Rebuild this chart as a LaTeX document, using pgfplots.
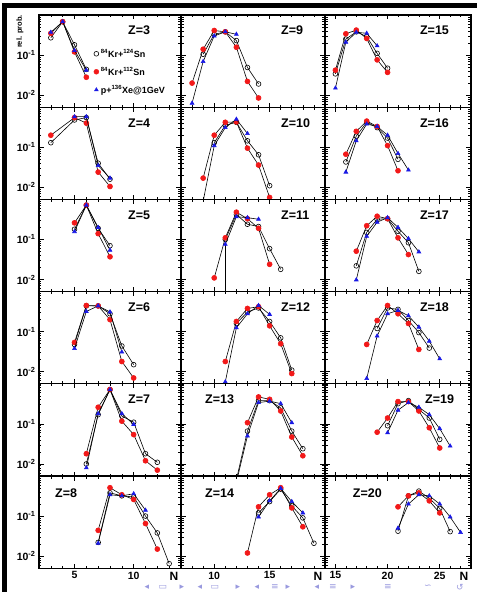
\documentclass[border=0pt]{standalone}
\usepackage{fontspec}
\setmainfont{Liberation Sans}
\newfontfamily\dejavu{DejaVu Sans}
\usepackage{pgfplots}
\pgfplotsset{compat=1.18}
\usepgfplotslibrary{groupplots}
\usetikzlibrary{calc}
\definecolor{myred}{rgb}{0.95,0.1,0.1}
\definecolor{myblue}{rgb}{0.1,0.1,0.9}
\definecolor{navcol}{rgb}{0.6,0.6,0.87}
\pgfplotsset{
 sA/.style={black, line width=0.6pt, mark=o, mark size=2.4pt, mark options={solid, line width=0.6pt}},
 sB/.style={black, line width=0.6pt, mark=*, mark size=2.5pt, mark options={solid, color=myred}},
 sC/.style={black, line width=0.6pt, mark=triangle*, mark size=2.2pt, mark options={solid, color=myblue}},
 c1/.style={xmin=2,xmax=14,width=142pt,xtick={5,10},minor xtick={2,...,14}},
 c2/.style={xmin=7,xmax=20,width=144pt,xtick={10,15},minor xtick={7,...,20}},
 c3/.style={xmin=14,xmax=28,width=146pt,xtick={15,20,25},minor xtick={14,...,28}},
 nl/.style={xlabel={N}, xlabel style={at={(axis description cs:1,0)}, anchor=north east, font=\bfseries\fontsize{12}{12}\selectfont, inner sep=0pt, yshift=-4pt, xshift=-2.5pt}},
}
\tikzset{zl/.style={font=\bfseries\fontsize{12.5}{13}\selectfont, anchor=west, inner sep=0pt}}
\newcommand\tri[3]{%
 \addplot[sA] coordinates {#1};
 \addplot[sB] coordinates {#2};
 \addplot[sC] coordinates {#3};}
\begin{document}
\begin{tikzpicture}
\begin{groupplot}[
 group style={group size=3 by 6, horizontal sep=0pt, vertical sep=0pt,
   xticklabels at=edge bottom, yticklabels at=edge left},
 scale only axis, height=92.2pt,
 ymode=log, ymin=0.005, ymax=1,
 ytick={0.01,0.1}, yticklabels={{10\textsuperscript{-2}},{10\textsuperscript{-1}}},
 minor ytick={0.005,0.006,0.007,0.008,0.009,0.02,0.03,0.04,0.05,0.06,0.07,0.08,0.09,0.2,0.3,0.4,0.5,0.6,0.7,0.8,0.9},
 ticklabel style={font=\bfseries\fontsize{10.5}{11}\selectfont},
 /pgf/number format/assume math mode=true,
 axis line style={line width=1.1pt},
 tick style={black, line width=0.6pt},
 major tick length=4.5pt, minor tick length=2.5pt,
 tick align=inside,
 clip mode=individual,
]
% ---------- row 1
\nextgroupplot[c1,
 legend style={draw=none, fill=none, at={(axis description cs:0.385,0.655)}, anchor=north west,
   font=\bfseries\fontsize{9}{10}\selectfont, row sep=4.5pt, inner sep=0pt},
 legend cell align=left,
 legend image code/.code={\draw[#1] plot coordinates {(0pt,0pt)};}]
\addlegendimage{black, mark=o, mark size=2.4pt, mark options={line width=0.6pt}}
\addlegendentry{\textsuperscript{84}Kr+\textsuperscript{124}Sn}
\addlegendimage{black, mark=*, mark size=2.5pt, mark options={color=myred}}
\addlegendentry{\textsuperscript{84}Kr+\textsuperscript{112}Sn}
\addlegendimage{black, mark=triangle*, mark size=2.2pt, mark options={color=myblue}}
\addlegendentry{p+\textsuperscript{136}Xe@1GeV}
\tri{(3,0.27)(4,0.68)(5,0.18)(6,0.044)}
    {(3,0.35)(4,0.68)(5,0.12)(6,0.028)}
    {(3,0.37)(4,0.68)(5,0.13)(6,0.042)}
\node[zl] at (axis description cs:0.627,0.83) {Z=3};
\node[rotate=90, anchor=east, font=\bfseries\fontsize{7.5}{8}\selectfont, inner sep=0pt] at (axis description cs:-0.135,1) {rel. prob.};
\nextgroupplot[c2]
\tri{(9,0.105)(10,0.33)(11,0.38)(12,0.23)(13,0.049)(14,0.019)}
    {(8,0.02)(9,0.14)(10,0.41)(11,0.38)(12,0.157)(13,0.022)(14,0.0085)}
    {(8,0.0063)(9,0.069)(10,0.30)(11,0.38)(12,0.33)}
\node[zl] at (axis description cs:0.694,0.83) {Z=9};
\nextgroupplot[c3]
\tri{(15,0.034)(16,0.25)(17,0.38)(18,0.29)(19,0.11)(20,0.047)}
    {(15,0.042)(16,0.34)(17,0.42)(18,0.26)(19,0.076)(20,0.037)}
    {(15,0.015)(16,0.21)(17,0.37)(18,0.35)(19,0.17)}
\node[zl] at (axis description cs:0.65,0.83) {Z=15};
% ---------- row 2
\nextgroupplot[c1]
\tri{(3,0.13)(5,0.48)(6,0.55)(7,0.04)(8,0.016)}
    {(3,0.2)(5,0.55)(6,0.4)(7,0.024)(8,0.0105)}
    {(5,0.58)(6,0.58)(7,0.035)(8,0.017)}
\node[zl] at (axis description cs:0.627,0.83) {Z=4};
\nextgroupplot[c2]
\tri{(10,0.13)(11,0.355)(12,0.42)(13,0.145)(14,0.065)(15,0.011)}
    {(9,0.017)(10,0.2)(11,0.42)(12,0.43)(13,0.095)(14,0.036)(15,0.0056)}
    {(9,0.0045)(10,0.11)(11,0.31)(12,0.5)(13,0.22)}
\node[zl] at (axis description cs:0.694,0.83) {Z=10};
\nextgroupplot[c3]
\tri{(16,0.043)(17,0.19)(18,0.42)(19,0.31)(20,0.17)(21,0.05)}
    {(16,0.067)(17,0.25)(18,0.45)(19,0.33)(20,0.11)(21,0.026)}
    {(16,0.024)(17,0.145)(18,0.38)(19,0.33)(20,0.2)(21,0.07)(22,0.027)}
\node[zl] at (axis description cs:0.65,0.83) {Z=16};
% ---------- row 3
\nextgroupplot[c1]
\tri{(5,0.18)(6,0.72)(7,0.19)(8,0.07)}
    {(5,0.26)(6,0.72)(7,0.14)(8,0.037)}
    {(5,0.157)(6,0.72)(7,0.2)(8,0.054)}
\node[zl] at (axis description cs:0.627,0.83) {Z=5};
\nextgroupplot[c2]
\addplot[black, line width=0.6pt, forget plot] coordinates {(11,0.076)(11,0.004)};
\tri{(11,0.1)(12,0.42)(13,0.24)(14,0.21)(15,0.059)(16,0.018)}
    {(10,0.011)(11,0.11)(12,0.48)(13,0.33)(14,0.19)(15,0.024)}
    {(11,0.076)(12,0.37)(13,0.35)(14,0.32)}
\node[zl] at (axis description cs:0.694,0.83) {Z=11};
\nextgroupplot[c3]
\tri{(17,0.022)(18,0.15)(19,0.32)(20,0.33)(21,0.16)(22,0.083)(23,0.016)}
    {(17,0.051)(18,0.22)(19,0.38)(20,0.33)(21,0.11)(22,0.042)}
    {(17,0.0098)(18,0.12)(19,0.27)(20,0.35)(21,0.2)(22,0.105)(23,0.049)}
\node[zl] at (axis description cs:0.65,0.83) {Z=17};
% ---------- row 4
\nextgroupplot[c1]
\tri{(5,0.048)(6,0.44)(7,0.44)(8,0.28)(9,0.044)(10,0.015)}
    {(5,0.054)(6,0.45)(7,0.44)(8,0.2)(9,0.018)(10,0.007)}
    {(5,0.038)(6,0.32)(7,0.44)(8,0.31)(9,0.031)}
\node[zl] at (axis description cs:0.627,0.83) {Z=6};
\nextgroupplot[c2]
\tri{(12,0.16)(13,0.31)(14,0.39)(15,0.18)(16,0.07)(17,0.011)}
    {(11,0.018)(12,0.18)(13,0.38)(14,0.42)(15,0.14)(16,0.05)(17,0.009)}
    {(11,0.0056)(12,0.125)(13,0.28)(14,0.45)(15,0.27)}
\node[zl] at (axis description cs:0.694,0.83) {Z=12};
\nextgroupplot[c3]
\tri{(19,0.12)(20,0.39)(21,0.36)(22,0.19)(23,0.095)(24,0.039)}
    {(18,0.048)(19,0.19)(20,0.45)(21,0.28)(22,0.16)(23,0.036)}
    {(18,0.0068)(19,0.078)(20,0.28)(21,0.34)(22,0.25)(23,0.13)(24,0.058)(25,0.021)}
\node[zl] at (axis description cs:0.65,0.83) {Z=18};
% ---------- row 5
\nextgroupplot[c1]
\tri{(6,0.01)(7,0.17)(8,0.72)(9,0.157)(10,0.11)(11,0.018)(12,0.011)}
    {(6,0.018)(7,0.26)(8,0.72)(9,0.117)(10,0.054)(11,0.012)(12,0.007)}
    {(6,0.008)(7,0.18)(8,0.72)(9,0.18)(10,0.097)}
\node[zl] at (axis description cs:0.627,0.83) {Z=7};
\nextgroupplot[c2]
\tri{(12,0.004)(13,0.066)(14,0.38)(15,0.38)(16,0.25)(17,0.066)(18,0.024)}
    {(13,0.107)(14,0.47)(15,0.41)(16,0.21)(17,0.047)(18,0.016)}
    {(12,0.0035)(13,0.05)(14,0.34)(15,0.37)(16,0.32)(17,0.107)}
\node[zl] at (axis description cs:0.167,0.83) {Z=13};
\nextgroupplot[c3]
\tri{(20,0.09)(21,0.32)(22,0.38)(23,0.23)(24,0.14)(25,0.041)}
    {(19,0.062)(20,0.14)(21,0.36)(22,0.36)(23,0.21)(24,0.08)(25,0.025)}
    {(20,0.06)(21,0.22)(22,0.34)(23,0.26)(24,0.17)(25,0.076)(26,0.028)}
\node[zl] at (axis description cs:0.685,0.83) {Z=19};
% ---------- row 6
\nextgroupplot[c1, nl]
\tri{(7,0.022)(8,0.38)(9,0.32)(10,0.3)(11,0.1)(12,0.038)(13,0.0065)}
    {(7,0.044)(8,0.51)(9,0.34)(10,0.26)(11,0.065)(12,0.015)}
    {(7,0.021)(8,0.34)(9,0.32)(10,0.36)(11,0.14)}
\node[zl] at (axis description cs:0.113,0.81) {Z=8};
\nextgroupplot[c2, nl]
\tri{(14,0.12)(15,0.23)(16,0.47)(17,0.18)(18,0.09)(19,0.021)}
    {(13,0.012)(14,0.17)(15,0.34)(16,0.51)(17,0.16)(18,0.054)}
    {(14,0.095)(15,0.24)(16,0.49)(17,0.23)(18,0.12)}
\node[zl] at (axis description cs:0.167,0.81) {Z=14};
\nextgroupplot[c3, nl]
\tri{(21,0.042)(22,0.32)(23,0.42)(24,0.28)(25,0.155)(26,0.041)}
    {(21,0.17)(22,0.32)(23,0.38)(24,0.24)(25,0.12)}
    {(21,0.05)(22,0.2)(23,0.34)(24,0.32)(25,0.2)(26,0.095)(27,0.039)}
\node[zl] at (axis description cs:0.19,0.81) {Z=20};
\end{groupplot}
\coordinate (TL) at ($(group c1r1.north west)+(-39pt,15pt)$);
\fill[black] ($(TL)+(2.5pt,-3pt)$) rectangle ($(TL)+(477pt,-8pt)$);
\fill[black] ($(TL)+(2.5pt,-3pt)$) rectangle ($(TL)+(7pt,-592pt)$);
\foreach \xx/\gg in {147/◂,163/▭,182/▸,200/◂,215/▭,238/▸,257/◂,275/≡,288/▸,317/◂,333/≡,353/▸,388/≡,428/∽,460/↺}
  \node[text=navcol, font=\dejavu\fontsize{9}{9}\selectfont, inner sep=0pt] at ($(TL)+(\xx pt,-587pt)$) {\gg};
\pgfresetboundingbox
\path[use as bounding box] (TL) rectangle ($(TL)+(477pt,-592pt)$);
\end{tikzpicture}
\end{document}
